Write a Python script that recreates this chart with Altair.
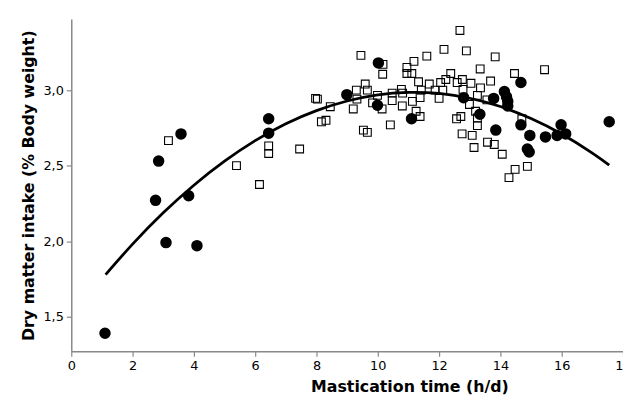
import altair as alt
import pandas as pd

# Filled circles
circle_x = [1.10, 2.75, 2.85, 3.09, 3.58, 3.83, 4.10, 6.44, 6.44, 8.99, 10.02, 9.99, 11.10,
            12.80, 13.33, 13.78, 13.85, 14.13, 14.20, 14.24, 14.24, 14.67, 14.67, 14.88,
            14.94, 14.96, 15.47, 15.85, 15.98, 16.13, 17.55]
circle_y = [1.39, 2.27, 2.53, 1.99, 2.71, 2.30, 1.97, 2.81, 2.715, 2.97, 3.18, 2.90, 2.81,
            2.95, 2.84, 2.945, 2.735, 2.99, 2.955, 2.925, 2.895, 3.05, 2.77, 2.61,
            2.59, 2.70, 2.69, 2.70, 2.77, 2.71, 2.79]

# Open squares
square_x = [3.17, 5.39, 6.14, 6.44, 6.44, 7.45, 7.97, 8.03, 8.16, 8.31, 8.45, 9.20, 9.30, 9.32,
            9.45, 9.53, 9.59, 9.66, 9.66, 9.83, 9.99, 10.14, 10.16, 10.17, 10.41, 10.47, 10.47,
            10.77, 10.80, 10.81, 10.95, 10.95, 11.11, 11.13, 11.18, 11.25, 11.33, 11.38, 11.38,
            11.42, 11.60, 11.68, 11.87, 12.00, 12.05, 12.12, 12.16, 12.22, 12.38, 12.57, 12.59,
            12.68, 12.71, 12.75, 12.76, 12.78, 12.89, 12.99, 13.04, 13.08, 13.14, 13.19, 13.25,
            13.25, 13.25, 13.34, 13.35, 13.56, 13.58, 13.68, 13.80, 13.83, 14.06, 14.28, 14.46,
            14.48, 14.70, 14.88, 15.44]
square_y = [2.665, 2.50, 2.375, 2.63, 2.58, 2.61, 2.945, 2.94, 2.79, 2.80, 2.89, 2.875, 3.00, 2.94,
            3.23, 2.735, 3.04, 3.00, 2.72, 2.915, 2.965, 2.875, 3.105, 3.17, 2.77, 2.93, 2.98,
            3.005, 2.895, 2.98, 3.15, 3.11, 3.11, 2.925, 3.19, 2.86, 3.055, 2.95, 2.825,
            3.00, 3.225, 3.04, 3.00, 2.945, 3.05, 3.00, 3.27, 3.07, 3.11, 2.81, 3.05,
            3.395, 2.825, 2.71, 3.07, 3.005, 3.26, 2.905, 3.045, 2.70, 2.62, 2.86, 2.965,
            2.815, 2.765, 3.14, 3.015, 2.935, 2.655, 3.06, 2.64, 3.22, 2.575, 2.42, 3.11,
            2.475, 2.81, 2.495, 3.135]

# Fitted curve
curve_x = [1.12, 2, 3, 4, 5, 6, 7, 8, 9, 10, 11, 12, 13, 14, 15, 16, 17, 17.55]
curve_y = [1.778, 1.98, 2.187, 2.37, 2.529, 2.665, 2.777, 2.864, 2.928, 2.969, 2.985, 2.978,
           2.946, 2.891, 2.812, 2.709, 2.583, 2.503]

x_ticks = [0, 2, 4, 6, 8, 10, 12, 14, 16, 18]
y_ticks = [1.5, 2.0, 2.5, 3.0]

circles = pd.DataFrame({"x": circle_x, "y": circle_y})
squares = pd.DataFrame({"x": square_x, "y": square_y})
curve = pd.DataFrame({"x": curve_x, "y": curve_y})

FONT = "DejaVu Sans"

xscale = alt.Scale(domain=[0, 18], nice=False, zero=False)
yscale = alt.Scale(domain=[1.27, 3.47], nice=False, zero=False)

xaxis = alt.Axis(values=x_ticks, title="Mastication time (h/d)", grid=False,
                 labelFlush=False, titleX=342, titleAlign="center")
yaxis = alt.Axis(values=y_ticks, title="Dry matter intake (% Body weight)", grid=False,
                 labelExpr="replace(format(datum.value, '.1f'), '.', ',')")

X = alt.X("x:Q", scale=xscale, axis=xaxis)
Y = alt.Y("y:Q", scale=yscale, axis=yaxis)

sq = alt.Chart(squares).mark_square(filled=False, size=62, stroke="black",
                                    strokeWidth=1.1, opacity=1).encode(x=X, y=Y)
ci = alt.Chart(circles).mark_circle(size=135, color="black", opacity=1).encode(x=X, y=Y)
ln = alt.Chart(curve).mark_line(color="black", strokeWidth=2.8,
                                interpolate="natural").encode(x=X, y=Y)

chart = alt.layer(sq, ci, ln).properties(
    width=558, height=336,
    autosize=alt.AutoSizeParams(type="none"),
    padding={"left": 64, "top": 9, "right": 0, "bottom": 50},
).configure_view(stroke=None).configure_axis(
    domainColor="#888888", domainWidth=1.5, tickColor="#888888", tickWidth=1.2,
    tickSize=5, labelFont=FONT, labelFontSize=13, labelColor="black", labelPadding=3,
    titleFont=FONT, titleFontSize=16, titleFontWeight="bold", titleColor="black",
).configure_axisY(titlePadding=7).configure_axisX(titlePadding=7)

chart.save("out.html", embed_options={"renderer": "svg", "actions": False})
